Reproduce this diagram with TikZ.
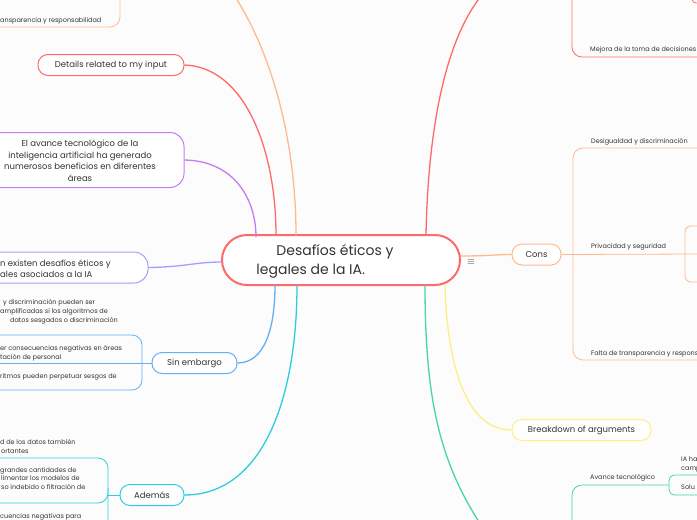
\documentclass[tikz,border=0pt]{standalone}
\usepackage{fontspec}
\setmainfont{Poppins}
\usetikzlibrary{positioning}
\definecolor{inkgray}{RGB}{51,51,51}
\definecolor{paper}{RGB}{252,252,252}
\definecolor{mapred}{RGB}{255,105,105}
\definecolor{maporange}{RGB}{255,185,140}
\definecolor{mappurple}{RGB}{196,125,240}
\definecolor{maplilac}{RGB}{160,160,255}
\definecolor{mapblue}{RGB}{100,175,245}
\definecolor{mapteal}{RGB}{45,205,225}
\definecolor{mapyellow}{RGB}{255,238,130}
\definecolor{mapgreen}{RGB}{70,215,165}

\begin{document}
\begin{tikzpicture}[x=1pt,y=1pt,yscale=-1,
  pill/.style={draw,fill=white,rounded corners=10pt,line width=1pt,minimum height=21pt,inner sep=0pt,text=inkgray,font=\fontsize{8.5}{10}\selectfont},
  bigbox/.style={draw,fill=white,rounded corners=14pt,line width=1pt,inner sep=0pt},
  leaf/.style={anchor=north west,inner sep=0pt,text=inkgray,align=left,font=\fontsize{6.5}{9}\selectfont},
  link/.style={line width=1.3pt},
  twig/.style={line width=0.8pt,rounded corners=10pt}]
\path[use as bounding box] (0,0) rectangle (697,520);
\clip (0,0) rectangle (697,520);
\fill[paper] (0,0) rectangle (697,520);

% central topic
\node[draw=mapred,fill=white,line width=2pt,rounded corners=25pt,minimum width=238pt,minimum height=50pt] (root) at (341,260) {};
\node[text=inkgray,inner sep=0pt,align=left,font=\fontsize{14}{19}\selectfont] (rootlabel) at (325,261) {\hspace*{20pt}Desafíos éticos y\\legales de la IA.};
\node[text=inkgray,inner sep=0pt,font=\fontsize{10}{10}\selectfont] (menu) at (471,262) {$\equiv$};
\coordinate (rootO) at (296,235);
\coordinate (rootR) at (276,235);
\coordinate (rootP) at (256,237);
\coordinate (rootL) at (222,262);
\coordinate (rootB) at (275,285);
\coordinate (rootT) at (297,285);
\coordinate (rootRR) at (426,235);
\coordinate (rootC) at (461,256);
\coordinate (rootY) at (445,285);
\coordinate (rootG) at (425,285);

% left side topics
\node[pill,draw=mapred,minimum width=146pt] (details) at (111,65) {Details related to my input};
\node[bigbox,draw=mappurple,minimum width=208pt,minimum height=55pt] (benefits) at (80,160) {};
\node[text=inkgray,inner sep=0pt,align=center,font=\fontsize{8.5}{11.5}\selectfont] (benefitslabel) at (80,160.5) {El avance tecnológico de la\\inteligencia artificial ha generado\\numerosos beneficios en diferentes\\áreas};
\node[bigbox,draw=maplilac,minimum width=220pt,minimum height=31pt] (challenges) at (38,267.5) {};
\node[text=inkgray,inner sep=0pt,align=left,anchor=west,font=\fontsize{8.5}{11}\selectfont] (challengeslabel) at (0,268.5) {n existen desafíos éticos y\\ales asociados a la IA};
\node[pill,draw=mapblue,minimum width=85pt] (sinemb) at (194.5,363) {Sin embargo};
\node[pill,draw=mapteal,minimum width=64pt] (ademas) at (152,495) {Además};

% right side topics
\node[pill,draw=maporange,minimum width=49pt] (cons) at (536.5,254.5) {Cons};
\node[pill,draw=mapyellow,minimum width=139pt] (breakdown) at (581.5,430) {Breakdown of arguments};

% links from the centre
\draw[link,maporange] (rootO) .. controls (296,150) and (276,60) .. (234,-5);
\draw[link,mapred] (details.east) .. controls (245,67) and (276,150) .. (rootR);
\draw[link,mappurple] (benefits.east) .. controls (235,161) and (256,200) .. (rootP);
\draw[link,maplilac] (challenges.east) .. controls (185,267) and (195,262) .. (rootL);
\draw[link,mapblue] (sinemb.east) .. controls (264,363) and (275,330) .. (rootB);
\draw[link,mapteal] (ademas.east) .. controls (262,495) and (297,400) .. (rootT);
\draw[link,mapred] (rootRR) .. controls (428,130) and (445,40) .. (482,-5);
\draw[link,maporange] (rootC) .. controls (490,256) and (495,254.5) .. (cons.west);
\draw[link,mapyellow] (rootY) .. controls (447,362) and (465,430) .. (breakdown.west);
\draw[link,mapgreen] (rootG) .. controls (425,400) and (440,462) .. (481,525);

% branches and leaves, top left
\draw[twig,maporange] (-2,27) -| (120,-5);
\node[leaf] (leafTransp) at (0,17) {ansparencia y responsabilidad};

% Sin embargo
\draw[twig,mapblue] (-2,335) -| (142,390) -- (-2,390);
\draw[twig,mapblue] (-2,363) -- (sinemb.west);
\node[leaf] (leafSesgos) at (0,299) {\hspace*{3pt}y discriminación pueden ser\\amplificadas si los algoritmos de\\\hspace*{10pt}datos sesgados o discriminación};
\node[leaf] (leafAreas) at (0,345) {er consecuencias negativas en áreas\\tación de personal};
\node[leaf] (leafPerpet) at (0,373) {ritmos pueden perpetuar sesgos de};

% Además
\draw[twig,mapteal] (-2,458) -| (108,525);
\draw[twig,mapteal] (-2,503) -| (108,488);
\draw[twig,mapteal] (108,495) -- (ademas.west);
\node[leaf] (leafCalidad) at (0,439) {d de los datos también\\\hspace*{1pt}ortantes};
\node[leaf,font=\fontsize{6.5}{8.6}\selectfont] (leafCantidad) at (0,467) {grandes cantidades de\\\hspace*{1pt}limentar los modelos de\\\hspace*{1pt}so indebido o filtración de};
\node[leaf] (leafNegat) at (0,513) {cuencias negativas para};

% top right
\draw[twig,mapred] (572,-5) |- (699,57);
\draw[twig,mapred,rounded corners=4pt] (692,-5) |- (699,3);
\node[leaf] (leafMejora) at (590,46) {Mejora de la toma de decisiones};

% Cons
\draw[twig,maporange] (699,148) -| (573,360) -- (699,360);
\draw[twig,maporange] (cons.east) -- (699,254);
\draw[twig,maporange,rounded corners=6pt] (699,226) -| (685,282) -- (699,282);
\node[leaf] (leafDesig) at (591,138) {Desigualdad y discriminación};
\node[leaf] (leafPriv) at (591,243) {Privacidad y seguridad};
\node[leaf] (leafFalta) at (591,350) {Falta de transparencia y responsabilidad};

% bottom right
\draw[twig,mapgreen] (572,525) |- (669,485);
\draw[twig,mapgreen,rounded corners=6pt] (699,475) -| (669,495) -- (699,495);
\node[leaf] (leafAvance) at (590,474) {Avance tecnológico};
\node[leaf] (leafIAha) at (681,456) {IA ha\\camp};
\node[leaf] (leafSolu) at (681,484) {Solu};
\end{tikzpicture}
\end{document}
